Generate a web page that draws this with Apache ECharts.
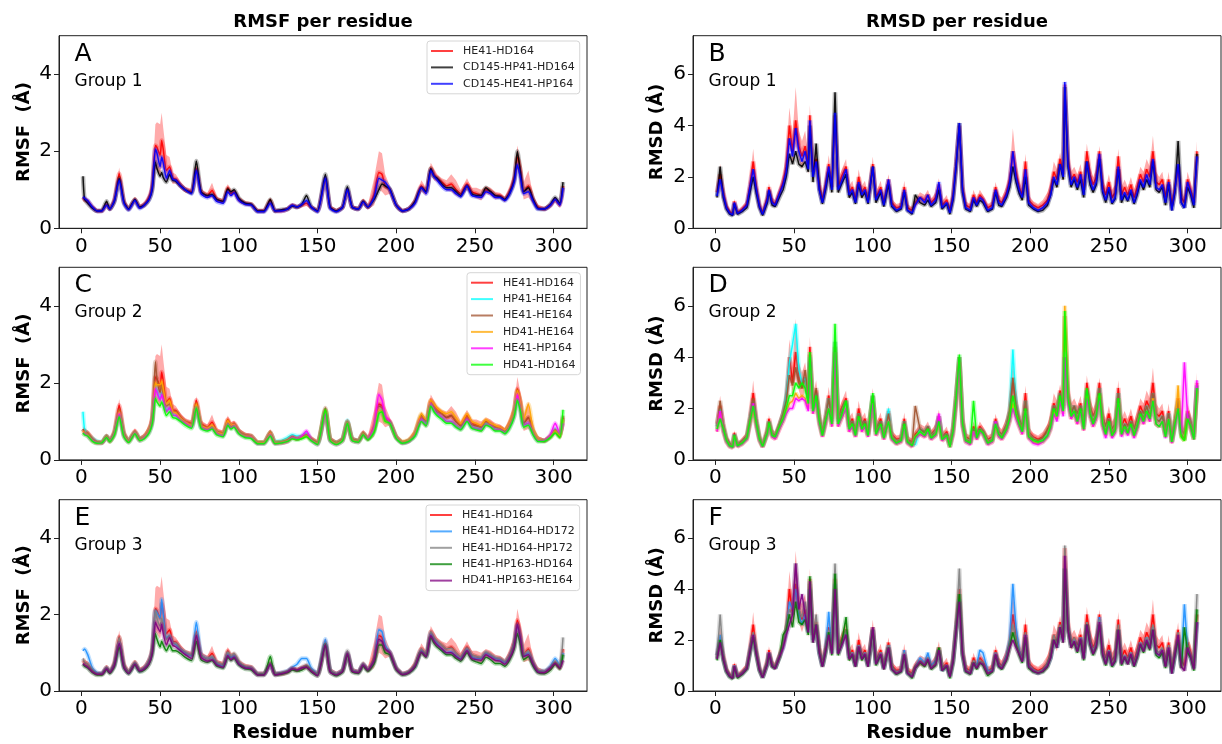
<!DOCTYPE html>
<html><head><meta charset="utf-8">
<script src="https://cdn.jsdelivr.net/npm/echarts@6/dist/echarts.min.js"></script>
<style>html,body{margin:0;padding:0;background:#fff}#c{width:1222px;height:744px}</style>
</head><body><div id="c"></div>
<script>
// ---------- tick labels ----------
const xTicks=[0,50,100,150,200,250,300];
const rmsfTicks=[0,2,4];
const rmsdTicks=[0,2,4,6];

// ---------- residue positions (read points) ----------
const resF=[1,2,4,7,10,13,16,18,21,24, 27,30,34,37,40,43,45,47,48,50, 51,52,54,56,58,60,63,66,70,73, 76,80,83,86,90,93,95,97,100,104,
 108,112,116,120,123,127,131,134,137,140, 143,146,150,155,158,162,166,169,172,176, 179,182,186,189,191,193,196,200,204,208,
 212,216,219,222,224,226,229,232,235,238, 241,245,248,251,254,257,260,263,266,269, 272,275,277,279,281,284,287,290,294,298, 301,304,306];
const resD=[1,3,5,7,9,11,12,14,17,20, 22,24,26,28,30,33,34,36,38,41, 43,45,47,49,51,53,55,57,59,60, 62,64,66,68,70,72,74,76,78,80,
 83,85,87,89,91,93,95,97,100,102, 105,107,110,112,115,118,120,122,125,127, 130,133,135,137,140,142,144,147,149,151,
 153,155,157,159,162,164,166,168,170,173, 176,178,180,182,185,187,189,191,193,195, 197,199,202,205,208,211,213,215,217,219,
 221,222,224,226,228,230,232,234,236,238, 240,242,244,246,248,250,252,254,256,258, 260,262,264,266,268,270,272,274,276,278,
 280,282,284,286,288,290,292,294,296,298, 300,302,304,306];

// ---------- RMSF (Å) ----------
const fRed=[0.80,0.75,0.70,0.55,0.45,0.45,0.62,0.50,0.75,1.42, 0.70,0.50,0.75,0.55,0.62,0.80,1.10,2.15,2.10,1.90, 2.28,2.05,1.50,1.60,1.30,1.28,1.12,1.00,0.95,1.55,
 0.95,0.85,0.98,0.75,0.70,1.05,0.90,0.95,0.75,0.65, 0.62,0.45,0.45,0.72,0.45,0.45,0.50,0.60,0.55,0.60, 0.65,0.55,0.45,1.30,0.55,0.45,0.55,1.00,0.55,0.50,
 0.70,0.55,0.90,1.45,1.40,1.10,1.00,0.60,0.45,0.50, 0.70,1.10,0.95,1.55,1.40,1.30,1.20,1.10,1.15,1.00, 0.90,1.15,0.95,0.90,0.85,1.00,0.95,0.85,0.85,0.75,
 0.95,1.30,1.85,1.50,0.95,1.10,0.75,0.55,0.50,0.60, 0.75,0.60,1.10];
const fRedHi=[0.88,0.82,0.77,0.60,0.50,0.50,0.68,0.56,0.82,1.58, 0.76,0.55,0.82,0.60,0.68,0.90,1.30,2.70,2.75,2.70, 3.00,2.60,1.90,1.85,1.45,1.40,1.20,1.08,1.02,1.65,
 1.02,0.92,1.18,0.82,0.76,1.15,0.98,1.02,0.82,0.70, 0.67,0.50,0.50,0.80,0.50,0.50,0.55,0.65,0.60,0.65, 0.72,0.60,0.50,1.40,0.60,0.50,0.60,1.08,0.60,0.55,
 0.78,0.62,1.30,2.00,1.95,1.40,1.10,0.66,0.50,0.55, 0.78,1.25,1.05,1.70,1.55,1.40,1.30,1.25,1.40,1.25, 1.00,1.30,1.05,1.05,1.00,1.10,1.05,0.95,0.92,0.82,
 1.05,1.45,2.15,1.75,1.20,1.50,0.85,0.62,0.55,0.66, 0.82,0.66,1.20];
const fRedLo=[0.72,0.68,0.63,0.50,0.41,0.41,0.56,0.45,0.68,1.28, 0.64,0.46,0.68,0.50,0.56,0.72,0.95,1.55,1.50,1.35, 1.60,1.55,1.20,1.35,1.15,1.16,1.04,0.93,0.88,1.45,
 0.88,0.78,0.80,0.68,0.64,0.95,0.82,0.88,0.68,0.60, 0.57,0.41,0.41,0.64,0.41,0.41,0.46,0.55,0.50,0.55, 0.58,0.50,0.41,1.20,0.50,0.41,0.50,0.92,0.50,0.46,
 0.62,0.48,0.60,1.00,0.95,0.85,0.90,0.54,0.41,0.46, 0.62,0.95,0.85,1.40,1.25,1.20,1.10,0.98,0.95,0.85, 0.80,1.00,0.85,0.78,0.72,0.90,0.85,0.75,0.78,0.68,
 0.85,1.15,1.55,1.25,0.75,0.80,0.65,0.49,0.45,0.54, 0.68,0.54,1.00];
const fBlack=[1.35,0.75,0.65,0.52,0.45,0.46,0.70,0.50,0.70,1.30, 0.68,0.50,0.75,0.55,0.60,0.75,1.00,1.72,1.55,1.35, 1.45,1.32,1.20,1.40,1.25,1.22,1.10,1.00,0.92,1.75,
 0.95,0.85,0.88,0.75,0.70,1.02,0.95,1.00,0.78,0.65, 0.62,0.45,0.45,0.75,0.45,0.48,0.50,0.58,0.55,0.62, 0.85,0.55,0.45,1.40,0.55,0.45,0.55,1.08,0.55,0.50,
 0.70,0.55,0.75,1.00,1.15,1.10,1.02,0.60,0.45,0.50, 0.70,1.05,0.95,1.55,1.35,1.30,1.15,1.05,1.05,0.95, 0.85,1.10,0.90,0.85,0.85,1.05,0.95,0.85,0.82,0.75,
 0.90,1.25,2.00,1.45,0.95,1.05,0.75,0.52,0.50,0.62, 0.80,0.65,1.20];
const fBlue=[0.82,0.78,0.72,0.55,0.45,0.45,0.60,0.50,0.72,1.25, 0.65,0.48,0.72,0.52,0.60,0.75,1.05,2.05,1.95,1.60, 1.85,1.70,1.30,1.50,1.28,1.25,1.10,1.00,0.90,1.50,
 0.90,0.80,0.85,0.70,0.65,0.95,0.85,0.92,0.72,0.62, 0.60,0.43,0.43,0.65,0.45,0.45,0.50,0.60,0.55,0.62, 0.72,0.55,0.43,1.30,0.52,0.43,0.55,1.00,0.55,0.50,
 0.68,0.55,0.80,1.30,1.25,1.20,1.00,0.60,0.45,0.50, 0.65,1.05,0.90,1.50,1.35,1.25,1.10,1.00,1.00,0.90, 0.82,1.10,0.85,0.82,0.80,0.95,0.90,0.80,0.80,0.72,
 0.88,1.20,1.65,1.30,0.90,0.95,0.70,0.50,0.50,0.60, 0.75,0.60,1.05];
const fCyan=[1.25,0.80,0.65,0.55,0.48,0.47,0.62,0.50,0.70,1.20, 0.65,0.50,0.72,0.55,0.60,0.75,1.00,1.90,1.80,1.60, 1.75,1.60,1.30,1.35,1.20,1.15,1.05,0.95,0.88,1.35,
 0.85,0.80,0.85,0.72,0.65,0.95,0.85,0.90,0.72,0.62, 0.60,0.45,0.45,0.70,0.48,0.50,0.58,0.65,0.62,0.62, 0.70,0.52,0.43,1.25,0.52,0.45,0.55,1.02,0.55,0.50,
 0.68,0.55,0.75,1.30,1.30,1.05,0.95,0.60,0.45,0.50, 0.65,1.05,0.95,1.45,1.30,1.20,1.10,1.00,1.00,0.88, 0.82,1.05,0.85,0.82,0.80,0.95,0.90,0.80,0.80,0.72,
 0.88,1.20,1.70,1.35,0.90,0.95,0.72,0.52,0.50,0.62, 0.80,0.65,1.05];
const fBrown=[0.80,0.72,0.68,0.55,0.47,0.46,0.62,0.50,0.72,1.30, 0.68,0.50,0.72,0.55,0.60,0.78,1.05,2.55,2.10,1.75, 1.95,1.70,1.40,1.45,1.25,1.25,1.10,1.00,0.92,1.45,
 0.92,0.82,0.88,0.72,0.68,1.00,0.88,0.92,0.75,0.65, 0.62,0.45,0.45,0.72,0.45,0.47,0.52,0.60,0.55,0.60, 0.65,0.55,0.45,1.35,0.55,0.45,0.55,1.00,0.55,0.50,
 0.70,0.55,0.78,1.40,1.35,1.05,0.98,0.60,0.45,0.50, 0.70,1.15,1.00,1.50,1.40,1.25,1.20,1.10,1.15,1.00, 0.88,1.10,0.92,0.88,0.85,1.00,0.92,0.85,0.82,0.75,
 0.92,1.25,1.80,1.45,0.95,1.10,0.75,0.55,0.50,0.62, 0.78,0.62,1.15];
const fOrange=[0.75,0.70,0.65,0.50,0.45,0.45,0.60,0.48,0.70,1.25, 0.65,0.48,0.72,0.52,0.60,0.78,1.05,2.00,1.95,1.95, 2.05,1.85,1.45,1.55,1.25,1.22,1.08,0.98,0.90,1.45,
 0.90,0.82,0.90,0.72,0.68,1.02,0.90,0.92,0.72,0.62, 0.60,0.45,0.45,0.70,0.45,0.46,0.50,0.58,0.55,0.58, 0.62,0.52,0.43,1.25,0.52,0.43,0.52,0.98,0.52,0.48,
 0.68,0.55,0.80,1.30,1.25,1.00,0.95,0.60,0.48,0.52, 0.72,1.20,1.05,1.55,1.45,1.35,1.25,1.20,1.25,1.10, 0.95,1.20,1.00,0.95,0.90,1.05,0.95,0.90,0.85,0.78,
 0.95,1.30,1.80,1.50,1.05,1.45,0.80,0.55,0.50,0.62, 0.75,0.62,1.05];
const fMagenta=[0.70,0.68,0.62,0.50,0.44,0.44,0.58,0.48,0.68,1.20, 0.62,0.46,0.70,0.50,0.58,0.72,1.00,1.85,1.75,1.55, 1.70,1.55,1.25,1.35,1.15,1.15,1.02,0.95,0.85,1.35,
 0.85,0.78,0.82,0.68,0.62,0.92,0.82,0.88,0.70,0.60, 0.58,0.42,0.42,0.65,0.42,0.44,0.48,0.58,0.55,0.62, 0.75,0.52,0.40,1.20,0.50,0.40,0.50,0.95,0.50,0.46,
 0.65,0.55,0.85,1.70,1.55,1.15,0.98,0.58,0.44,0.48, 0.65,1.05,0.90,1.45,1.30,1.20,1.10,1.00,1.00,0.88, 0.80,1.05,0.85,0.80,0.78,0.92,0.88,0.78,0.78,0.70,
 0.85,1.15,1.70,1.30,0.90,0.95,0.68,0.50,0.50,0.65, 0.95,0.70,0.95];
const fGreen=[0.70,0.65,0.62,0.48,0.43,0.44,0.58,0.47,0.65,1.12, 0.60,0.45,0.68,0.50,0.55,0.70,0.95,1.60,1.50,1.40, 1.50,1.40,1.15,1.25,1.10,1.08,1.00,0.90,0.82,1.35,
 0.82,0.75,0.80,0.65,0.60,0.90,0.80,0.85,0.68,0.58, 0.55,0.42,0.42,0.62,0.42,0.44,0.48,0.55,0.52,0.55, 0.60,0.50,0.40,1.30,0.50,0.40,0.50,0.95,0.50,0.46,
 0.65,0.52,0.72,1.20,1.25,1.00,0.95,0.56,0.43,0.48, 0.62,1.00,0.88,1.40,1.25,1.15,1.05,0.95,0.95,0.85, 0.78,1.00,0.82,0.78,0.75,0.90,0.85,0.75,0.75,0.68,
 0.82,1.12,1.55,1.25,0.85,0.90,0.65,0.48,0.48,0.58, 0.70,0.58,1.30];
const fDodger=[1.05,1.10,0.95,0.60,0.48,0.46,0.60,0.50,0.70,1.25, 0.65,0.48,0.72,0.52,0.60,0.78,1.05,2.10,2.05,1.90, 2.40,2.00,1.40,1.45,1.25,1.22,1.08,1.00,0.92,1.80,
 0.95,0.85,0.88,0.72,0.65,0.98,0.88,0.92,0.72,0.62, 0.60,0.45,0.45,0.70,0.45,0.47,0.52,0.62,0.70,0.85, 0.85,0.60,0.45,1.35,0.55,0.45,0.55,1.00,0.55,0.50,
 0.70,0.55,0.80,1.60,1.55,1.20,1.00,0.60,0.45,0.50, 0.65,1.05,0.92,1.50,1.35,1.25,1.10,1.00,1.02,0.92, 0.85,1.10,0.90,0.85,0.85,1.00,0.92,0.85,0.82,0.75,
 0.90,1.25,1.70,1.35,0.92,1.00,0.72,0.52,0.52,0.65, 0.85,0.68,1.00];
const fGray=[0.85,0.75,0.70,0.55,0.46,0.46,0.62,0.50,0.72,1.40, 0.68,0.50,0.75,0.55,0.60,0.80,1.10,2.10,1.90,1.70, 1.90,1.70,1.35,1.45,1.25,1.25,1.10,1.02,0.95,1.50,
 0.95,0.85,0.90,0.75,0.70,1.02,0.92,0.98,0.78,0.65, 0.62,0.45,0.45,0.72,0.45,0.48,0.52,0.60,0.55,0.62, 0.68,0.55,0.45,1.25,0.55,0.45,0.55,1.05,0.55,0.50,
 0.72,0.55,0.80,1.30,1.30,1.10,1.02,0.62,0.45,0.50, 0.70,1.10,0.95,1.55,1.40,1.30,1.20,1.10,1.12,1.00, 0.90,1.12,0.95,0.90,0.88,1.02,0.95,0.88,0.85,0.78,
 0.92,1.25,1.75,1.40,0.95,1.05,0.75,0.55,0.52,0.62, 0.78,0.65,1.40];
const fDkGreen=[0.70,0.65,0.60,0.48,0.42,0.42,0.56,0.46,0.65,1.15, 0.60,0.45,0.68,0.50,0.55,0.70,0.95,1.50,1.35,1.15, 1.30,1.20,1.05,1.20,1.05,1.05,0.98,0.88,0.80,1.30,
 0.82,0.75,0.80,0.65,0.60,0.88,0.80,0.85,0.68,0.58, 0.55,0.42,0.42,0.90,0.42,0.44,0.48,0.55,0.52,0.55, 0.62,0.50,0.40,1.20,0.50,0.40,0.50,0.95,0.50,0.46,
 0.65,0.52,0.72,1.20,1.20,1.00,0.95,0.56,0.42,0.47, 0.62,1.00,0.88,1.40,1.25,1.15,1.05,0.95,0.95,0.85, 0.78,1.00,0.82,0.76,0.72,0.88,0.82,0.72,0.72,0.65,
 0.80,1.10,1.50,1.20,0.82,0.90,0.65,0.48,0.45,0.55, 0.70,0.58,0.95];
const fPurple=[0.72,0.68,0.62,0.50,0.44,0.44,0.58,0.48,0.68,1.25, 0.62,0.46,0.70,0.52,0.58,0.72,1.00,1.80,1.70,1.55, 1.75,1.50,1.20,1.40,1.20,1.15,1.05,0.95,0.85,1.45,
 0.88,0.78,0.82,0.68,0.62,0.92,0.82,0.88,0.70,0.60, 0.58,0.42,0.42,0.70,0.42,0.45,0.50,0.58,0.55,0.60, 0.62,0.52,0.40,1.20,0.50,0.42,0.52,0.98,0.52,0.48,
 0.68,0.55,0.80,1.35,1.30,1.10,1.00,0.58,0.43,0.48, 0.65,1.02,0.90,1.45,1.30,1.20,1.10,1.00,1.00,0.90, 0.82,1.05,0.85,0.82,0.80,0.95,0.88,0.80,0.78,0.70,
 0.85,1.15,1.75,1.35,0.90,0.95,0.70,0.50,0.48,0.60, 0.72,0.60,0.80];

// ---------- RMSD (Å) ----------
const dRed=[1.40,2.10,1.40,0.85,0.65,0.55,1.05,0.60,0.75,0.95, 1.70,2.60,1.60,0.90,0.60,1.20,1.60,1.05,0.95,1.45, 1.80,2.40,4.00,3.00,4.20,3.20,2.80,3.20,2.50,4.40,
 2.20,2.70,1.70,1.10,1.70,2.50,1.60,4.40,1.60,2.00, 2.40,1.40,1.60,1.10,2.00,1.40,1.60,1.10,2.50,1.20, 1.60,1.00,1.90,1.00,0.80,0.85,1.60,0.80,0.70,1.00,
 1.20,1.10,1.30,1.00,1.20,1.70,0.90,1.10,0.70,1.30, 2.60,4.00,1.60,0.90,0.80,1.30,1.00,1.30,1.15,0.80, 0.90,1.60,1.10,1.00,1.40,1.90,3.00,2.20,1.60,1.30,
 2.60,1.10,0.90,0.80,0.90,1.10,1.50,2.20,1.90,2.70, 2.10,5.60,2.70,1.90,2.10,1.80,2.20,1.50,3.00,2.10, 1.70,2.00,3.00,1.70,1.30,1.80,1.20,1.40,2.80,1.30,
 1.60,1.30,1.70,1.20,1.60,2.10,1.80,2.30,2.00,3.00, 1.80,1.70,1.90,1.20,1.90,0.90,1.60,2.40,1.20,1.00, 1.90,1.50,1.00,3.00];
const dRedHi=[1.60,2.50,1.60,1.00,0.75,0.62,1.15,0.68,0.85,1.10, 1.95,3.10,1.85,1.05,0.70,1.35,1.75,1.20,1.10,1.65, 2.10,2.90,4.70,3.60,5.50,3.80,3.40,3.80,2.90,4.80,
 2.50,3.10,2.00,1.30,1.95,2.85,1.85,4.80,1.85,2.25, 2.70,1.65,1.85,1.30,2.30,1.65,1.85,1.30,2.80,1.40, 1.85,1.20,2.10,1.15,0.95,1.00,1.85,0.95,0.82,1.15,
 1.40,1.30,1.50,1.15,1.40,1.95,1.05,1.30,0.82,1.50, 2.90,4.20,1.85,1.05,0.95,1.50,1.15,1.50,1.30,0.95, 1.05,1.80,1.30,1.20,1.65,2.20,3.90,2.60,1.85,1.50,
 2.90,1.30,1.05,0.95,1.10,1.40,1.80,2.60,2.30,2.95, 2.40,5.80,3.00,2.20,2.40,2.10,2.50,1.80,3.30,2.40, 2.00,2.30,3.20,2.00,1.55,2.10,1.50,1.70,3.10,1.60,
 1.90,1.60,2.00,1.50,1.90,2.40,2.20,2.70,2.40,3.60, 2.20,2.00,2.20,1.45,2.20,1.10,1.85,2.70,1.40,1.20, 2.20,1.75,1.20,3.40];
const dRedLo=[1.20,1.75,1.20,0.72,0.56,0.48,0.95,0.52,0.66,0.82, 1.45,2.10,1.35,0.78,0.52,1.05,1.45,0.90,0.82,1.25, 1.55,2.00,3.40,2.50,3.30,2.70,2.30,2.70,2.10,3.90,
 1.90,2.30,1.40,0.92,1.45,2.15,1.35,4.00,1.35,1.75, 2.10,1.15,1.35,0.92,1.70,1.15,1.35,0.92,2.20,1.00, 1.35,0.82,1.70,0.85,0.66,0.72,1.35,0.66,0.58,0.85,
 1.00,0.92,1.10,0.85,1.00,1.45,0.75,0.92,0.58,1.10, 2.30,3.80,1.35,0.75,0.66,1.10,0.85,1.10,1.00,0.66, 0.75,1.40,0.92,0.82,1.15,1.60,2.40,1.85,1.35,1.10,
 2.30,0.92,0.75,0.66,0.72,0.85,1.20,1.85,1.55,2.40, 1.80,5.40,2.40,1.60,1.80,1.50,1.90,1.25,2.70,1.80, 1.40,1.70,2.80,1.40,1.05,1.50,0.95,1.15,2.50,1.05,
 1.30,1.05,1.40,0.95,1.30,1.80,1.45,1.95,1.65,2.50, 1.45,1.40,1.60,0.95,1.60,0.72,1.35,2.10,1.00,0.82, 1.60,1.25,0.82,2.60];
const dBlack=[1.20,2.40,1.20,0.75,0.55,0.50,0.95,0.55,0.65,0.80, 1.40,2.00,1.35,0.80,0.50,1.00,1.45,0.90,0.85,1.25, 1.50,2.00,2.90,2.50,3.00,2.50,2.40,2.60,2.20,4.00,
 1.80,3.30,1.50,0.95,1.50,2.20,1.40,5.30,1.40,1.70, 2.10,1.20,1.40,0.95,1.70,1.20,1.40,0.95,2.40,1.00, 1.40,0.85,1.70,0.85,0.65,0.75,1.40,0.70,0.55,1.30,
 1.00,0.90,1.10,0.85,1.00,1.50,0.75,0.95,0.55,1.10, 2.40,4.10,1.40,0.75,0.65,1.10,0.85,1.10,1.00,0.65, 0.75,1.40,0.90,0.85,1.20,1.60,2.40,1.80,1.35,1.10,
 2.00,0.90,0.75,0.65,0.70,0.90,1.30,1.90,1.60,2.50, 1.90,5.50,2.40,1.60,1.90,1.50,1.90,1.20,2.60,1.70, 1.40,1.70,2.70,1.40,1.00,1.50,0.95,1.15,2.30,1.00,
 1.30,1.05,1.40,0.95,1.30,1.80,1.50,1.90,1.60,2.60, 1.50,1.40,1.60,0.90,1.70,0.70,1.40,3.40,1.00,0.80, 1.60,1.30,0.80,2.90];
const dBlue=[1.25,1.90,1.30,0.80,0.60,0.52,1.00,0.58,0.70,0.90, 1.60,2.30,1.50,0.85,0.55,1.10,1.50,1.00,0.90,1.40, 1.70,2.20,3.50,2.80,3.90,3.00,2.60,3.00,2.30,4.20,
 2.00,2.60,1.50,1.00,1.60,2.40,1.50,4.50,1.50,1.80, 2.30,1.30,1.50,1.00,1.80,1.30,1.50,1.00,2.40,1.10, 1.50,0.90,1.90,0.90,0.70,0.80,1.50,0.70,0.60,0.90,
 1.20,1.00,1.30,0.90,1.10,1.80,0.80,1.00,0.60,1.20, 2.50,4.10,1.50,0.80,0.70,1.20,0.90,1.20,1.10,0.70, 0.80,1.50,1.00,0.90,1.30,1.80,3.00,2.00,1.50,1.20,
 2.30,1.00,0.80,0.70,0.80,1.00,1.30,2.00,1.70,2.50, 2.00,5.70,2.50,1.70,2.00,1.60,2.10,1.30,2.60,1.90, 1.50,1.80,2.90,1.50,1.10,1.60,1.00,1.20,2.40,1.10,
 1.40,1.10,1.50,1.00,1.40,1.90,1.60,2.10,1.70,2.70, 1.60,1.50,1.70,1.00,1.80,0.70,1.50,2.50,1.00,0.80, 1.80,1.40,0.90,2.80];
const dCyan=[1.30,2.00,1.30,0.80,0.60,0.52,1.00,0.58,0.70,0.90, 1.60,2.30,1.50,0.85,0.55,1.10,1.50,1.00,0.90,1.40, 1.80,2.50,3.80,4.50,5.30,3.50,3.00,3.20,2.40,4.00,
 2.00,2.60,1.60,1.00,1.60,2.40,1.50,4.60,1.50,1.80, 2.30,1.30,1.50,1.00,1.80,1.30,1.50,1.00,2.50,1.10, 1.50,0.90,2.00,0.90,0.70,0.80,1.50,0.75,0.60,0.60,
 1.20,1.05,1.30,0.90,1.10,1.70,0.85,1.00,0.60,1.20, 2.50,4.00,1.50,0.80,0.70,1.20,0.90,1.20,1.10,0.70, 0.80,1.50,1.00,0.90,1.30,1.90,4.30,2.20,1.50,1.20,
 2.30,1.00,0.80,0.70,0.80,1.00,1.30,2.10,1.80,2.60, 2.00,4.20,2.50,1.80,2.10,1.60,2.10,1.30,2.70,1.90, 1.50,1.80,2.80,1.50,1.10,1.60,1.05,1.25,2.60,1.10,
 1.40,1.10,1.50,1.00,1.40,1.90,1.60,2.10,1.70,2.60, 1.60,1.50,1.70,1.00,1.80,0.70,1.50,2.30,1.00,0.80, 1.80,1.40,0.90,2.90];
const dBrown=[1.30,2.30,1.30,0.80,0.60,0.52,1.00,0.58,0.70,0.90, 1.60,2.40,1.50,0.85,0.55,1.10,1.50,1.00,0.90,1.40, 1.80,2.30,3.30,2.90,3.60,3.00,2.80,3.50,2.40,4.10,
 2.00,2.80,1.60,1.00,1.60,2.40,1.50,4.60,1.50,1.80, 2.30,1.30,1.50,1.00,1.80,1.30,1.50,1.00,2.50,1.10, 1.50,0.90,1.80,0.90,0.70,0.80,1.50,0.75,0.60,2.10,
 1.20,1.05,1.30,0.90,1.10,1.70,0.85,1.00,0.60,1.20, 2.50,4.00,1.50,0.80,0.70,1.20,0.90,1.20,1.10,0.70, 0.80,1.50,1.00,0.90,1.30,1.90,3.20,2.10,1.50,1.20,
 2.30,1.00,0.80,0.75,0.85,1.20,1.40,2.10,1.80,2.60, 2.00,4.00,2.50,1.80,2.10,1.60,2.10,1.30,2.70,1.90, 1.50,1.80,2.80,1.50,1.10,1.60,1.05,1.25,2.60,1.10,
 1.40,1.10,1.50,1.00,1.40,1.90,1.60,2.10,1.70,2.60, 1.60,1.50,1.70,1.00,1.80,0.70,1.50,2.30,1.00,0.80, 1.80,1.40,0.90,2.90];
const dOrange=[1.10,1.80,1.10,0.70,0.52,0.48,0.90,0.52,0.62,0.80, 1.40,1.90,1.30,0.75,0.50,1.00,1.40,0.90,0.82,1.25, 1.50,1.90,2.20,2.30,2.60,2.40,2.50,2.40,2.00,3.60,
 1.80,2.30,1.40,0.90,1.40,2.00,1.30,4.20,1.30,1.60, 2.00,1.10,1.30,0.90,1.60,1.10,1.30,0.90,2.20,0.95, 1.30,0.80,1.50,0.80,0.62,0.70,1.30,0.65,0.52,0.90,
 1.00,0.90,1.10,0.80,0.95,1.45,0.75,0.90,0.50,1.00, 2.20,3.80,1.30,0.70,0.62,1.10,0.80,1.10,1.00,0.62, 0.70,1.30,0.90,0.80,1.10,1.50,2.20,1.70,1.30,1.00,
 1.90,0.85,0.70,0.65,0.70,0.90,1.20,1.90,1.60,2.30, 1.80,6.00,2.30,1.60,1.80,1.40,1.90,1.15,2.50,1.70, 1.30,1.60,2.50,1.30,0.95,1.40,0.90,1.10,2.20,0.95,
 1.20,1.00,1.30,0.90,1.20,1.70,1.40,1.80,1.50,2.40, 1.40,1.30,1.50,0.90,1.60,0.65,1.30,2.90,0.90,0.75, 1.60,1.20,0.80,2.70];
const dMagenta=[1.10,1.90,1.10,0.70,0.52,0.48,0.90,0.52,0.62,0.80, 1.40,2.20,1.30,0.75,0.50,1.00,1.40,0.90,0.82,1.25, 1.50,1.80,2.00,2.00,2.40,2.30,2.40,2.30,1.90,3.80,
 1.80,2.30,1.40,0.90,1.40,2.00,1.30,4.20,1.30,1.60, 2.00,1.10,1.30,0.90,1.60,1.10,1.30,0.90,2.20,0.95, 1.30,0.80,1.50,0.80,0.62,0.70,1.30,0.65,0.52,0.85,
 1.00,0.90,1.10,0.80,0.95,1.80,0.75,0.90,0.50,1.00, 2.20,3.80,1.30,0.70,0.60,1.10,0.80,1.10,1.00,0.60, 0.70,1.50,0.90,0.80,1.10,1.50,2.00,1.60,1.30,1.00,
 1.90,0.85,0.65,0.60,0.70,0.90,1.20,1.80,1.50,2.30, 1.70,4.00,2.20,1.60,1.80,1.40,1.90,1.15,2.40,1.70, 1.30,1.60,2.40,1.30,0.85,1.40,0.85,1.05,2.20,0.90,
 1.20,0.95,1.30,0.85,1.20,1.70,1.40,1.80,1.50,2.30, 1.40,1.30,1.50,0.85,1.60,0.65,1.30,2.00,1.00,3.80, 1.70,1.20,0.80,3.10];
const dGreen=[1.20,1.60,1.20,0.75,0.55,0.50,0.95,0.55,0.65,0.85, 1.50,2.10,1.40,0.80,0.52,1.05,1.45,0.95,0.90,1.35, 1.60,2.00,2.50,2.50,3.00,2.80,3.00,2.80,2.20,4.20,
 1.90,2.50,1.50,0.95,1.50,2.00,1.40,5.30,1.40,1.70, 2.30,1.20,1.40,0.95,1.70,1.20,1.40,0.95,2.60,1.00, 1.40,0.85,1.50,0.85,0.65,0.75,1.40,0.70,0.55,0.90,
 1.10,0.95,1.20,0.85,1.00,1.50,0.80,0.95,0.50,1.10, 2.40,4.10,1.40,0.75,0.65,2.30,0.85,1.15,1.05,0.65, 0.75,1.40,1.00,0.85,1.20,1.60,2.50,1.80,1.40,1.10,
 2.00,0.90,0.75,0.70,0.75,0.95,1.30,2.00,1.70,2.50, 1.90,5.80,2.40,1.70,1.90,1.50,2.00,1.20,2.80,1.80, 1.40,1.70,2.60,1.40,1.00,1.50,0.95,1.15,2.40,1.00,
 1.30,1.05,1.40,0.95,1.30,1.80,1.50,1.90,1.60,2.30, 1.40,1.30,1.50,0.90,1.60,0.70,1.40,2.00,0.90,0.75, 1.60,1.30,0.80,2.80];
const dDodger=[1.40,2.20,1.30,0.80,0.60,0.52,1.00,0.58,0.70,0.90, 1.60,2.20,1.50,0.85,0.55,1.10,1.50,1.00,0.90,1.40, 1.70,2.30,3.50,3.20,4.00,3.00,2.60,3.00,2.30,4.00,
 2.00,2.60,1.50,1.00,1.60,3.10,1.50,4.20,1.50,1.80, 2.30,1.30,1.50,1.00,1.80,1.30,1.50,1.00,2.40,1.10, 1.50,0.90,1.80,0.90,0.70,0.80,1.60,0.70,0.60,0.90,
 1.30,1.10,1.50,1.00,1.20,1.60,0.80,1.00,0.60,1.20, 2.50,3.60,1.50,0.80,0.70,1.10,1.00,1.60,1.50,0.80, 0.80,1.50,1.00,0.90,1.40,2.00,4.20,2.50,1.60,1.20,
 2.20,1.00,0.80,0.70,0.80,1.00,1.30,2.00,1.70,2.50, 2.00,4.80,2.50,1.80,2.00,1.60,2.10,1.30,2.60,1.90, 1.50,1.80,2.90,1.50,1.10,1.60,1.00,1.20,2.40,1.10,
 1.40,1.10,1.50,1.00,1.40,1.90,1.60,2.10,1.70,2.50, 1.50,1.40,1.60,1.00,1.70,0.70,1.40,2.00,1.00,3.40, 1.60,1.30,0.90,2.70];
const dGray=[1.30,3.00,1.30,0.80,0.60,0.52,1.00,0.58,0.70,0.90, 1.60,2.30,1.50,0.85,0.55,1.10,1.50,1.00,0.90,1.40, 1.80,2.40,3.20,3.00,5.00,3.20,2.90,3.50,2.40,4.20,
 2.00,3.00,1.60,1.00,1.60,2.40,1.50,5.00,1.50,1.80, 2.40,1.30,1.50,1.00,1.80,1.30,1.50,1.00,2.50,1.10, 1.50,0.90,1.80,0.90,0.70,0.80,1.50,0.75,0.60,0.90,
 1.20,1.05,1.30,0.90,1.10,1.70,0.85,1.00,0.60,1.20, 2.50,4.80,1.50,0.80,0.70,1.20,0.90,1.20,1.10,0.70, 0.80,1.50,1.00,0.90,1.30,1.90,2.60,2.00,1.50,1.20,
 2.30,1.00,0.80,0.70,0.80,1.10,1.40,2.20,1.80,2.60, 2.00,5.70,2.50,1.80,2.10,1.60,2.10,1.30,2.70,1.90, 1.50,1.80,2.80,1.50,1.10,1.60,1.05,1.25,2.60,1.10,
 1.40,1.10,1.50,1.00,1.40,1.90,1.60,2.10,1.70,2.60, 1.60,1.50,1.70,1.00,1.80,0.70,1.50,2.30,1.00,0.80, 1.80,1.40,0.90,3.80];
const dDkGreen=[1.20,2.00,1.20,0.75,0.55,0.48,0.95,0.50,0.65,0.85, 1.50,2.10,1.40,0.80,0.52,1.05,1.45,0.95,0.90,1.35, 2.20,2.40,3.00,2.50,3.50,2.70,2.60,2.80,2.20,4.50,
 1.90,2.60,1.50,0.95,1.50,2.30,1.40,4.60,1.40,1.80, 2.90,1.20,1.40,0.95,1.70,1.20,1.40,0.95,2.40,1.00, 1.40,0.85,1.70,0.85,0.65,0.75,1.40,0.70,0.50,0.90,
 1.10,0.95,1.20,0.85,1.00,1.70,0.80,0.95,0.50,1.10, 2.40,3.80,1.40,0.75,0.65,1.10,0.85,1.10,1.00,0.60, 0.75,1.40,0.95,0.85,1.20,1.70,2.30,1.80,1.40,1.10,
 2.10,0.90,0.75,0.70,0.75,0.95,1.30,2.00,1.70,2.50, 1.90,4.80,2.40,1.70,1.90,1.50,2.00,1.20,2.60,1.80, 1.40,1.70,2.60,1.40,1.00,1.50,0.95,1.15,2.40,1.00,
 1.30,1.05,1.40,0.95,1.30,1.80,1.50,1.90,1.60,2.40, 1.40,1.30,1.50,0.90,1.60,0.70,1.40,2.00,0.90,2.50, 1.50,1.30,0.80,3.20];
const dPurple=[1.25,1.90,1.25,0.78,0.58,0.50,0.98,0.55,0.68,0.88, 1.55,2.20,1.45,0.82,0.52,1.05,1.50,0.98,0.88,1.38, 1.70,2.20,2.60,3.00,5.00,3.20,3.80,3.00,2.30,4.30,
 1.90,2.60,1.50,0.95,1.55,2.20,1.45,4.00,1.45,1.75, 2.20,1.25,1.45,0.95,1.75,1.25,1.45,0.95,2.50,1.05, 1.45,0.85,1.70,0.85,0.68,0.78,1.45,0.70,0.55,0.90,
 1.15,1.00,1.25,0.88,1.05,1.60,0.80,1.00,0.55,1.15, 2.40,3.50,1.45,0.78,0.68,1.10,0.90,1.10,1.05,0.68, 0.78,1.45,0.98,0.88,1.25,1.70,2.00,1.70,1.45,1.15,
 2.20,0.95,0.78,0.70,0.78,0.98,1.30,2.00,1.70,2.50, 1.90,5.30,2.40,1.70,1.95,1.55,2.05,1.25,2.60,1.85, 1.45,1.75,2.70,1.45,1.05,1.55,1.00,1.20,2.40,1.05,
 1.35,1.05,1.45,0.98,1.35,1.85,1.55,2.00,1.65,2.40, 1.50,1.40,1.60,0.95,1.70,0.68,1.45,2.20,0.95,0.80, 1.70,1.35,0.85,2.70];

// ---------- panels ----------
const panels=[
 {id:'A',grp:'Group 1',kind:'F',lines:[['HE41-HD164',fRed,'#ff0000'],['CD145-HP41-HD164',fBlack,'#000000'],['CD145-HE41-HP164',fBlue,'#0000ff']]},
 {id:'B',grp:'Group 1',kind:'D',lines:[['HE41-HD164',dRed,'#ff0000'],['CD145-HP41-HD164',dBlack,'#000000'],['CD145-HE41-HP164',dBlue,'#0000ff']]},
 {id:'C',grp:'Group 2',kind:'F',lines:[['HE41-HD164',fRed,'#ff0000'],['HP41-HE164',fCyan,'#00ffff'],['HE41-HE164',fBrown,'#a0522d'],['HD41-HE164',fOrange,'#ffa500'],['HE41-HP164',fMagenta,'#ff00ff'],['HD41-HD164',fGreen,'#00ff00']]},
 {id:'D',grp:'Group 2',kind:'D',lines:[['HE41-HD164',dRed,'#ff0000'],['HP41-HE164',dCyan,'#00ffff'],['HE41-HE164',dBrown,'#a0522d'],['HD41-HE164',dOrange,'#ffa500'],['HE41-HP164',dMagenta,'#ff00ff'],['HD41-HD164',dGreen,'#00ff00']]},
 {id:'E',grp:'Group 3',kind:'F',lines:[['HE41-HD164',fRed,'#ff0000'],['HE41-HD164-HD172',fDodger,'#1e90ff'],['HE41-HD164-HP172',fGray,'#808080'],['HE41-HP163-HD164',fDkGreen,'#008000'],['HD41-HP163-HE164',fPurple,'#800080']]},
 {id:'F',grp:'Group 3',kind:'D',lines:[['HE41-HD164',dRed,'#ff0000'],['HE41-HD164-HD172',dDodger,'#1e90ff'],['HE41-HD164-HP172',dGray,'#808080'],['HE41-HP163-HD164',dDkGreen,'#008000'],['HD41-HP163-HE164',dPurple,'#800080']]}
];

const FONT='DejaVu Sans';
const LEFTS=[59,693], TOPS=[35.7,267.3,499.7], W=528, H=192.6;
const LEG=[{left:427,top:41},null,{left:467,top:272.7},null,{left:426,top:505},null];
const grids=[],xAxes=[],yAxes=[],series=[],legends=[],graphics=[];
const pts=(res,v)=>res.map((r,k)=>[r,v[k]]);

function bandItem(params,api){
  if(params.dataIndexInside!==0) return null;
  const n=params.dataInsideLength, up=[], dn=[];
  for(let j=0;j<n;j++){
    up.push(api.coord([api.value(0,j),api.value(2,j)]));
    dn.push(api.coord([api.value(0,j),api.value(1,j)]));
  }
  return {type:'polygon',shape:{points:up.concat(dn.reverse())},style:{fill:'rgba(255,0,0,0.33)'}};
}

panels.forEach((p,i)=>{
  const row=Math.floor(i/2), col=i%2, left=LEFTS[col], top=TOPS[row];
  const isF=p.kind==='F';
  const res=isF?resF:resD, hi=isF?fRedHi:dRedHi, lo=isF?fRedLo:dRedLo;
  const sm=isF?0.2:false;
  grids.push({left,top,width:W,height:H,show:true,borderColor:'#222',borderWidth:1,backgroundColor:'#fff'});
  xAxes.push({type:'value',gridIndex:i,min:-14.25,max:321.25,
    axisLine:{show:true,onZero:false,lineStyle:{color:'#222',width:1}},
    axisTick:{show:true,length:5,customValues:xTicks,lineStyle:{color:'#222'}},
    axisLabel:{customValues:xTicks,fontSize:20,color:'#000',margin:8,fontFamily:FONT},
    splitLine:{show:false},
    name:row===2?'Residue  number':'',nameLocation:'middle',nameGap:33,
    nameTextStyle:{fontSize:19,fontWeight:'bold',color:'#000',fontFamily:FONT}});
  yAxes.push({type:'value',gridIndex:i,min:0,max:isF?5:7.5,
    axisLine:{show:true,onZero:false,lineStyle:{color:'#222',width:1}},
    axisTick:{show:true,length:5,customValues:isF?rmsfTicks:rmsdTicks,lineStyle:{color:'#222'}},
    axisLabel:{customValues:isF?rmsfTicks:rmsdTicks,fontSize:20,color:'#000',margin:7,fontFamily:FONT},
    splitLine:{show:false},
    name:isF?'RMSF  (Å)':'RMSD (Å)',nameLocation:'middle',nameGap:isF?26:27,
    nameTextStyle:{fontSize:18,fontWeight:'bold',color:'#000',fontFamily:FONT}});
  // red std band (mean ± sd of HE41-HD164)
  series.push({type:'custom',name:'_band'+i,xAxisIndex:i,yAxisIndex:i,silent:true,animation:false,
    data:res.map((r,k)=>[r,lo[k],hi[k]]),encode:{x:0,y:[1,2]},renderItem:bandItem});
  p.lines.forEach(([name,vals,color])=>{
    series.push({type:'line',name:'_g'+name,xAxisIndex:i,yAxisIndex:i,data:pts(res,vals),symbol:'none',smooth:sm,
      lineStyle:{width:4.5,color,opacity:0.28},silent:true,animation:false});
    series.push({type:'line',name,xAxisIndex:i,yAxisIndex:i,data:pts(res,vals),symbol:'none',smooth:sm,
      lineStyle:{width:1.5,color,opacity:0.9},itemStyle:{color},silent:true,animation:false});
  });
  if(LEG[i]){
    legends.push({data:p.lines.map(l=>l[0]),orient:'vertical',left:LEG[i].left,top:LEG[i].top,
      icon:'rect',itemWidth:22,itemHeight:2,itemGap:0.4,selectedMode:false,itemStyle:{opacity:0.75},
      textStyle:{fontSize:11,fontFamily:FONT,color:'#222',lineHeight:16,padding:[0,0,0,5]},
      borderColor:'#d6d6d6',borderWidth:1,borderRadius:3,padding:[2,5,2,4],backgroundColor:'rgba(255,255,255,0.85)'});
  }
  graphics.push({type:'text',x:left+15.5,y:top+18.3,style:{text:p.id,font:'25px '+FONT,fill:'#000',verticalAlign:'middle',align:'left'}});
  graphics.push({type:'text',x:left+15.5,y:top+45.5,style:{text:p.grp,font:'17px '+FONT,fill:'#000',verticalAlign:'middle',align:'left'}});
});
graphics.push({type:'text',x:LEFTS[0]+W/2,y:22,style:{text:'RMSF per residue',font:'bold 18px '+FONT,fill:'#000',verticalAlign:'middle',align:'center'}});
graphics.push({type:'text',x:LEFTS[1]+W/2,y:22,style:{text:'RMSD per residue',font:'bold 18px '+FONT,fill:'#000',verticalAlign:'middle',align:'center'}});

const chart=echarts.init(document.getElementById('c'),null,{renderer:'canvas'});
chart.setOption({backgroundColor:'#fff',animation:false,grid:grids,xAxis:xAxes,yAxis:yAxes,legend:legends,series,graphic:graphics});
</script></body></html>
